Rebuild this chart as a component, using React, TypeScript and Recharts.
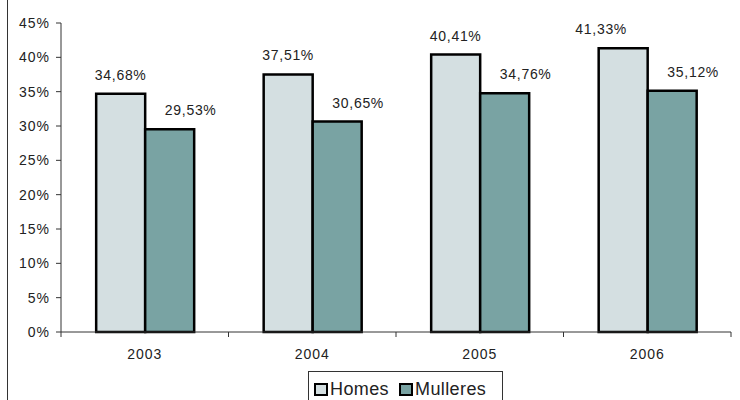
import React from "react";
import { BarChart, Bar, XAxis, YAxis, Legend } from "recharts";

const years = ["2003", "2004", "2005", "2006"];
const homes = [34.68, 37.51, 40.41, 41.33];
const mulleres = [29.53, 30.65, 34.76, 35.12];
const yTicks = [0, 5, 10, 15, 20, 25, 30, 35, 40, 45];

const data = years.map((y, i) => ({ year: y, Homes: homes[i], Mulleres: mulleres[i] }));

const FONT = '"Liberation Sans", Arial, sans-serif';
const HOMES_COLOR = "#d4dfe1";
const MULLERES_COLOR = "#79a3a3";
const AXIS_COLOR = "#333";

const W = 740;
const H = 400;
const M_TOP = 23;
const M_RIGHT = 9;
const Y_W = 61;
const M_BOTTOM = 38;
const X_H = 30;
const PLOT_W = W - Y_W - M_RIGHT;
const BAND = PLOT_W / years.length;
const PLOT_BOTTOM = H - M_BOTTOM - X_H;

const fmt = (v: number) => v.toFixed(2).replace(".", ",") + "%";

const makeLabel = (series: string) => (props: any) => {
  const { x, y, width, value, index } = props;
  let dx = 0;
  if (series === "Mulleres") dx = 21;
  if (series === "Homes" && index === 3) dx = -22;
  return (
    <text
      x={x + width / 2 + dx}
      y={y - 14}
      textAnchor="middle"
      fontFamily={FONT}
      fontSize={14}
      letterSpacing={0.7}
      fill="#222"
    >
      {fmt(value)}
    </text>
  );
};

const XTick = (props: any) => {
  const { x, payload, index } = props;
  const left = x - BAND / 2;
  const right = x + BAND / 2;
  return (
    <g>
      <line x1={left} x2={left} y1={PLOT_BOTTOM} y2={PLOT_BOTTOM + 5} stroke={AXIS_COLOR} />
      {index === years.length - 1 && (
        <line x1={right} x2={right} y1={PLOT_BOTTOM} y2={PLOT_BOTTOM + 5} stroke={AXIS_COLOR} />
      )}
      <text
        x={x}
        y={PLOT_BOTTOM + 27}
        textAnchor="middle"
        fontFamily={FONT}
        fontSize={14}
        letterSpacing={1}
        fill="#222"
      >
        {payload.value}
      </text>
    </g>
  );
};

const LegendBox = (props: any) => {
  const items = [
    { name: "Homes", color: HOMES_COLOR },
    { name: "Mulleres", color: MULLERES_COLOR },
  ];
  return (
    <div
      style={{
        border: "1.5px solid #333",
        height: 40,
        boxSizing: "border-box",
        display: "flex",
        alignItems: "flex-start",
        paddingLeft: 5,
        paddingTop: 7,
        fontFamily: FONT,
        fontSize: 18,
        letterSpacing: 0.4,
        color: "#222",
        background: "#fff",
      }}
    >
      {items.map((it, i) => (
        <div key={it.name} style={{ display: "flex", alignItems: "center", marginRight: i === 0 ? 10 : 0 }}>
          <span
            style={{
              display: "inline-block",
              width: 14,
              height: 13,
              boxSizing: "border-box",
              border: "2.5px solid #000",
              background: it.color,
              marginRight: 2,
            }}
          />
          <span style={{ lineHeight: "20px" }}>{it.name}</span>
        </div>
      ))}
    </div>
  );
};

export default function App() {
  return (
    <div style={{ position: "fixed", left: 0, top: 0, width: W, height: H, background: "#fff", overflow: "hidden" }}>
      <div style={{ position: "absolute", left: 6.5, top: 0, width: 1.2, height: H, background: "#333" }} />
      <BarChart
        width={W}
        height={H}
        data={data}
        margin={{ top: M_TOP, right: M_RIGHT, left: 0, bottom: M_BOTTOM }}
        barCategoryGap="21%"
        barGap={0}
      >
        <XAxis
          dataKey="year"
          height={X_H}
          stroke={AXIS_COLOR}
          tickLine={false}
          tick={<XTick />}
          interval={0}
        />
        <YAxis
          width={Y_W}
          domain={[0, 45]}
          ticks={yTicks}
          interval={0}
          tickSize={5}
          tickMargin={6}
          stroke={AXIS_COLOR}
          tickFormatter={(v: number) => `${v}%`}
          tick={{ fontFamily: FONT, fontSize: 14, letterSpacing: 1, fill: "#222" }}
        />
        <Legend
          layout="horizontal"
          verticalAlign="middle"
          content={<LegendBox />}
          wrapperStyle={{ position: "absolute", left: 308, top: 371, width: 195, height: 40 }}
        />
        <Bar
          dataKey="Homes"
          fill={HOMES_COLOR}
          stroke="#000"
          strokeWidth={2.5}
          isAnimationActive={false}
          label={makeLabel("Homes")}
        />
        <Bar
          dataKey="Mulleres"
          fill={MULLERES_COLOR}
          stroke="#000"
          strokeWidth={2.5}
          isAnimationActive={false}
          label={makeLabel("Mulleres")}
        />
      </BarChart>
    </div>
  );
}
